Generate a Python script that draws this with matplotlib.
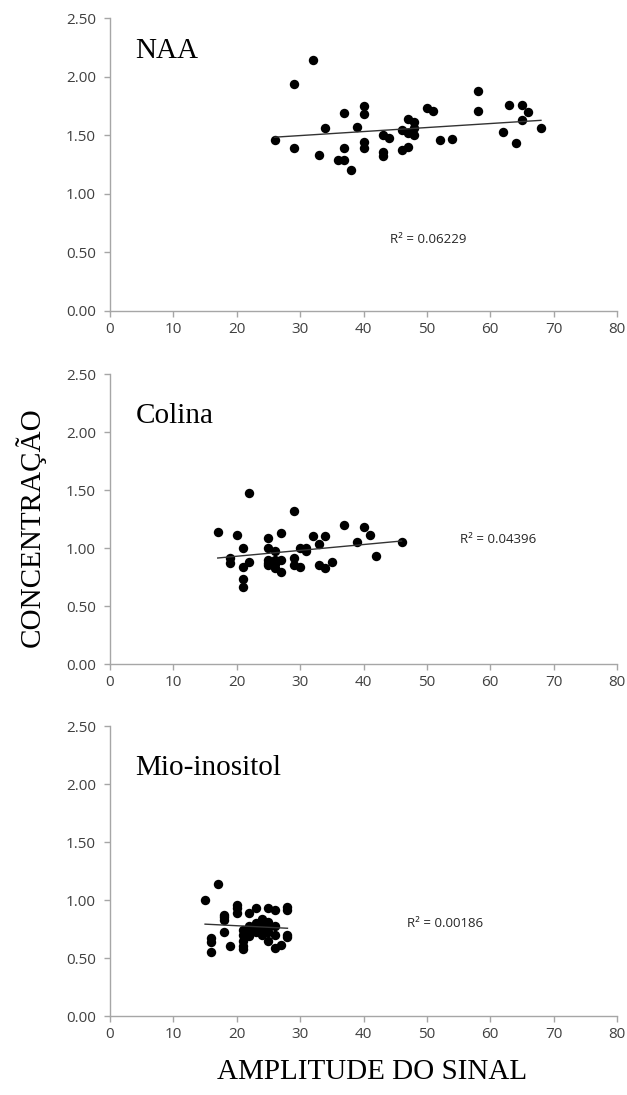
import numpy as np
import matplotlib
matplotlib.use("Agg")
import matplotlib.pyplot as plt

plt.rcParams['font.family'] = ['Open Sans', 'DejaVu Sans']

# ========== 数据 ==========
naa_x = [26, 29, 29, 32, 33, 34, 36, 37, 37, 37, 38, 39, 40, 40, 40, 40,
         43, 44, 43, 43, 46, 47, 48, 47, 48, 48, 46, 47, 50, 51, 52, 54,
         58, 58, 62, 64, 63, 65, 66, 65, 68]
naa_y = [1.46, 1.94, 1.39, 2.14, 1.33, 1.56, 1.29, 1.29, 1.69, 1.39, 1.20, 1.57, 1.75, 1.68, 1.44, 1.39,
         1.50, 1.48, 1.36, 1.32, 1.545, 1.636, 1.616, 1.517, 1.56, 1.50, 1.37, 1.40, 1.73, 1.71, 1.46, 1.47,
         1.88, 1.71, 1.525, 1.43, 1.76, 1.76, 1.70, 1.63, 1.56]

colina_x = [17, 19, 19, 20, 21, 21, 21, 21, 22, 22, 25, 25, 25, 25, 25, 26, 26, 26, 26, 26,
            27, 27, 27, 29, 29, 29, 30, 30, 31, 31, 32, 33, 33, 34, 34, 35, 37, 39, 40, 41, 42, 46]
colina_y = [1.14, 0.91, 0.87, 1.11, 1.00, 0.84, 0.73, 0.66, 1.47, 0.88, 1.09, 1.00, 0.90, 0.855, 0.87,
            0.97, 0.90, 0.83, 0.88, 0.86, 1.13, 0.90, 0.79, 1.32, 0.91, 0.855, 1.00, 0.835, 1.00, 0.97,
            1.10, 1.035, 0.85, 1.10, 0.83, 0.88, 1.20, 1.055, 1.18, 1.11, 0.935, 1.05]

mio_x = [15, 17, 16, 16, 16, 18, 18, 18, 18, 19, 20, 20, 20, 21, 21, 21, 21, 21, 22, 22, 22, 22,
         23, 23, 23, 23, 24, 24, 24, 24, 25, 25, 25, 25, 25, 26, 26, 26, 26, 27, 28, 28, 28, 28]
mio_y = [1.00, 1.14, 0.67, 0.64, 0.55, 0.87, 0.83, 0.85, 0.72, 0.60, 0.96, 0.93, 0.89, 0.74, 0.70,
         0.65, 0.60, 0.58, 0.89, 0.78, 0.73, 0.69, 0.93, 0.80, 0.76, 0.72, 0.84, 0.78, 0.74, 0.70,
         0.93, 0.81, 0.76, 0.72, 0.65, 0.91, 0.78, 0.70, 0.59, 0.61, 0.94, 0.91, 0.70, 0.68]

titles = ["NAA", "Colina", "Mio-inositol"]
r2_labels = ["R² = 0.06229", "R² = 0.04396", "R² = 0.00186"]
r2_pos = [(44.2, 0.61), (55.2, 1.07), (46.8, 0.80)]
title_y = [2.16, 2.08, 2.08]

x_ticks = [0, 10, 20, 30, 40, 50, 60, 70, 80]
y_ticks = [0.0, 0.5, 1.0, 1.5, 2.0, 2.5]

# 面板位置 (figure fraction)
W, H = 627, 1095
panel_px = [(18, 311), (374, 664), (726, 1016)]

fig = plt.figure(figsize=(W / 100, H / 100), dpi=100)
series = [(naa_x, naa_y), (colina_x, colina_y), (mio_x, mio_y)]

for i, ((xs, ys), (top, bot)) in enumerate(zip(series, panel_px)):
    ax = fig.add_axes([110 / W, 1 - bot / H, 507 / W, (bot - top) / H])
    xs = np.array(xs, dtype=float)
    ys = np.array(ys, dtype=float)
    ax.scatter(xs, ys, s=46, color='black', zorder=3, linewidths=0)

    # 线性趋势线
    k, b = np.polyfit(xs, ys, 1)
    xl = np.array([xs.min(), xs.max()])
    ax.plot(xl, k * xl + b, color='#333333', lw=1.0, zorder=4)

    ax.set_xlim(0, 80)
    ax.set_ylim(0, 2.5)
    ax.set_xticks(x_ticks)
    ax.set_yticks(y_ticks)
    ax.set_yticklabels([f"{v:.2f}" for v in y_ticks])
    for side in ['top', 'right']:
        ax.spines[side].set_visible(False)
    for side in ['left', 'bottom']:
        ax.spines[side].set_color('#a6a6a6')
        ax.spines[side].set_linewidth(1.0)
    ax.tick_params(axis='both', direction='out', length=4, width=1.0,
                   color='#a6a6a6', labelsize=11, labelcolor='#404040')
    ax.tick_params(axis='y', pad=6)
    ax.tick_params(axis='x', pad=4)
    ax.patch.set_alpha(0)

    ax.text(4, title_y[i], titles[i], family='Liberation Serif', fontsize=21,
            va='baseline', ha='left')
    ax.text(r2_pos[i][0], r2_pos[i][1], r2_labels[i], fontsize=9.5,
            va='center', ha='left', color='#262626')

fig.text(30 / W, 1 - 527 / H, "CONCENTRAÇÃO", family='Liberation Serif',
         fontsize=21, rotation=90, ha='center', va='center')
fig.text(372 / W, 1 - 1072 / H, "AMPLITUDE DO SINAL", family='Liberation Serif',
         fontsize=21, ha='center', va='center')

fig.savefig("out.png", dpi=100)
